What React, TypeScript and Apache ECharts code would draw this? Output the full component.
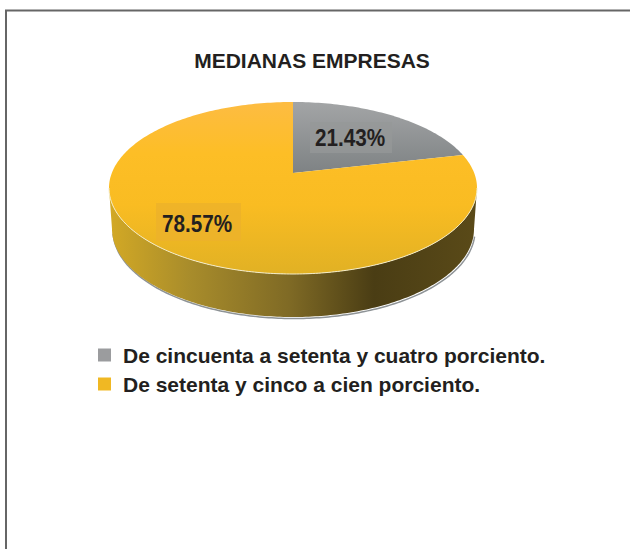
import React, { useEffect, useRef } from "react";
import * as echarts from "echarts";

const titleText = "MEDIANAS EMPRESAS";
const categories = [
  "De cincuenta a setenta y cuatro porciento.",
  "De setenta y cinco a cien porciento.",
];
const values = [21.43, 78.57];
const legendColors = ["#9b9c9e", "#f0b823"];

const FONT = "Liberation Sans";
const INK = "#231f20";
const cx = 293;
const cy = 188;
const rx = 184;
const ry = 86;
const apexOffset = 15;
const wallCy = 229;
const wallRx = 181;
const wallRy = 88;

const total = values.reduce((a, b) => a + b, 0);
const rad = (d: number) => (d * Math.PI) / 180;

// Perspective: the pie's true centre is drawn above the ellipse's centre.
function ellipseAngle(theta: number) {
  if (theta <= 0) return 0;
  if (theta >= 360) return 360;
  const ax = 0;
  const ay = -apexOffset / ry;
  const dx = Math.sin(rad(theta));
  const dy = -Math.cos(rad(theta));
  const b = ax * dx + ay * dy;
  const c = ax * ax + ay * ay - 1;
  const s = -b + Math.sqrt(b * b - c);
  const u = ax + s * dx;
  const v = ay + s * dy;
  let t = (Math.atan2(u, -v) * 180) / Math.PI;
  if (t < 0) t += 360;
  return t;
}

function rimPoint(t: number, ex = cx, ey = cy, erx = rx, ery = ry) {
  return [ex + erx * Math.sin(rad(t)), ey - ery * Math.cos(rad(t))];
}

function arc(t0: number, t1: number, ex = cx, ey = cy, erx = rx, ery = ry) {
  const pts: number[][] = [];
  const n = Math.max(2, Math.ceil(Math.abs(t1 - t0)));
  for (let i = 0; i <= n; i++) {
    pts.push(rimPoint(t0 + ((t1 - t0) * i) / n, ex, ey, erx, ery));
  }
  return pts;
}

const grad = (x0: number, y0: number, x1: number, y1: number, stops: [number, string][]) =>
  new echarts.graphic.LinearGradient(
    x0, y0, x1, y1,
    stops.map(([offset, color]) => ({ offset, color })),
    true
  );

const topFills = [
  grad(0, 102, 0, 173, [[0, "#a3a5a6"], [1, "#7e8284"]]),
  grad(0, 102, 0, 274, [[0, "#fdbc42"], [0.3, "#fdbe26"], [0.6, "#f9bc22"], [1, "#e1b124"]]),
];
const wallFill = grad(109, 0, 477, 0, [
  [0, "#d3a925"],
  [0.22, "#a88c2b"],
  [0.49, "#7f6a25"],
  [0.72, "#4a3d14"],
  [1, "#5a4a18"],
]);
const labelBoxes = [
  { x: 310, y: 122, w: 82, h: 31, fill: "rgba(150,152,152,0.75)", tx: 350, ty: 138 },
  { x: 156, y: 203, w: 85, h: 38, fill: "rgba(236,178,42,0.8)", tx: 197, ty: 224 },
];

function sliceRenderer(index: number) {
  const before = values.slice(0, index).reduce((a, b) => a + b, 0);
  return (_params: any, api: any) => {
    const value = api.value(0) as number;
    const t0 = ellipseAngle((before / total) * 360);
    const t1 = ellipseAngle(((before + value) / total) * 360);
    const children: any[] = [];
    const w0 = Math.max(t0, 90);
    const w1 = Math.min(t1, 270);
    if (w1 > w0) {
      children.push({
        type: "polyline",
        shape: { points: arc(w0 + 4, w1 - 2, cx + 1, wallCy + 1.5, wallRx, wallRy) },
        style: { fill: "none", stroke: "#8e9396", lineWidth: 1.5 },
      });
      children.push({
        type: "polygon",
        shape: {
          points: [...arc(w0, w1), ...arc(w1, w0, cx, wallCy, wallRx, wallRy)],
        },
        style: { fill: wallFill },
      });
    }
    children.push({
      type: "polygon",
      shape: { points: [[cx, cy - apexOffset], ...arc(t0, t1)] },
      style: { fill: topFills[index] },
    });
    if (w1 > w0) {
      children.push({
        type: "polyline",
        shape: { points: arc(w0, w1) },
        style: { fill: "none", stroke: "#f4ecc8", lineWidth: 1 },
      });
    }
    const box = labelBoxes[index];
    children.push({
      type: "rect",
      shape: { x: box.x, y: box.y, width: box.w, height: box.h },
      style: { fill: box.fill },
    });
    children.push({
      type: "text",
      x: box.tx,
      y: box.ty,
      scaleX: 0.9,
      style: {
        text: value.toFixed(2) + "%",
        font: `bold 23px "${FONT}"`,
        fill: INK,
        align: "center",
        verticalAlign: "middle",
      },
    });
    return { type: "group", children };
  };
}

export default function App() {
  const ref = useRef<HTMLDivElement>(null);
  useEffect(() => {
    const chart = echarts.init(ref.current!, null, { renderer: "svg" });
    chart.setOption({
      animation: false,
      backgroundColor: "#ffffff",
      title: {
        text: titleText,
        left: 307,
        top: 45,
        textAlign: "center",
        textStyle: { fontFamily: FONT, fontWeight: "bold", fontSize: 21, color: INK },
      },
      legend: {
        orient: "vertical",
        left: 93,
        top: 339,
        icon: "rect",
        itemWidth: 13,
        itemHeight: 13,
        itemGap: 7,
        data: categories,
        selectedMode: false,
        textStyle: {
          fontFamily: FONT,
          fontWeight: "bold",
          fontSize: 21,
          lineHeight: 22,
          color: INK,
          padding: [0, 0, 0, 7],
        },
      },
      graphic: [
        {
          type: "polyline",
          shape: { points: [[6, 549], [6, 10.5], [630, 10.5]] },
          style: { fill: "none", stroke: "#666666", lineWidth: 2 },
          silent: true,
        },
      ],
      series: categories.map((name, i) => ({
        type: "custom",
        name,
        coordinateSystem: "none",
        silent: true,
        itemStyle: { color: legendColors[i] },
        renderItem: sliceRenderer(i),
        data: [[values[i]]],
      })),
    });
    return () => chart.dispose();
  }, []);
  return (
    <div
      ref={ref}
      style={{ position: "fixed", left: 0, top: 0, width: 630, height: 549 }}
    />
  );
}
